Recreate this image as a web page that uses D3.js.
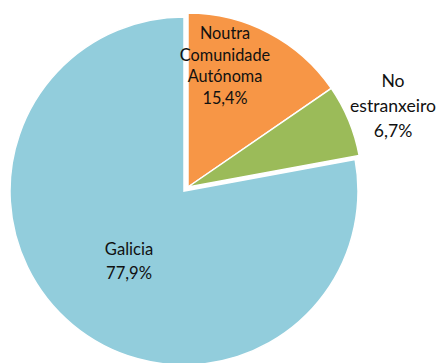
<!DOCTYPE html>
<html lang="en">
<head>
<meta charset="UTF-8">
<title>Pie</title>
<script src="https://d3js.org/d3.v7.min.js"></script>
<style>
  body, html { margin: 0; background: #fff; }
  svg { display: block; }
  text { font-family: Lato, "Open Sans", sans-serif; fill: #111; }
</style>
</head>
<body>
<div id="chart"></div>
<script>
var categories = ["Noutra Comunidade Autónoma", "No estranxeiro", "Galicia"];
var values = [15.4, 6.7, 77.9];
var labelLines = [["Noutra", "Comunidade", "Autónoma", "15,4%"], ["No", "estranxeiro", "6,7%"], ["Galicia", "77,9%"]];
var colors = ["#F79646", "#9BBB59", "#92CDDC"];
var exploded = [true, true, false];

var width = 442, height = 363;
var cx = 184, cy = 191, r = 174;
var explodeOffset = [4, -4];
// label anchor (centre of text block), font size, line height
var labelPos = [[225, 66, 16.3, 21.5], [393, 106, 17.6, 25], [129, 261, 16.6, 24]];

var svg = d3.select("#chart").append("svg").attr("width", width).attr("height", height);

var pie = d3.pie().sort(null).value(d => d).startAngle(0).endAngle(2 * Math.PI);
var arc = d3.arc().innerRadius(0).outerRadius(r);
var arcs = pie(values);

svg.selectAll("path").data(arcs).enter().append("path")
  .attr("transform", (d, i) => "translate(" + (cx + (exploded[i] ? explodeOffset[0] : 0)) + "," + (cy + (exploded[i] ? explodeOffset[1] : 0)) + ")")
  .attr("d", arc)
  .attr("fill", (d, i) => colors[i])
  .attr("stroke", "#fff")
  .attr("stroke-width", 1.5);

labelLines.forEach(function (lines, i) {
  var p = labelPos[i];
  var t = svg.append("text").attr("text-anchor", "middle").style("font-size", p[2] + "px");
  var top = p[1] - (lines.length - 1) * p[3] / 2;
  lines.forEach(function (line, j) {
    t.append("tspan").attr("x", p[0]).attr("y", top + j * p[3]).attr("dy", "0.35em").text(line);
  });
});
</script>
</body>
</html>
